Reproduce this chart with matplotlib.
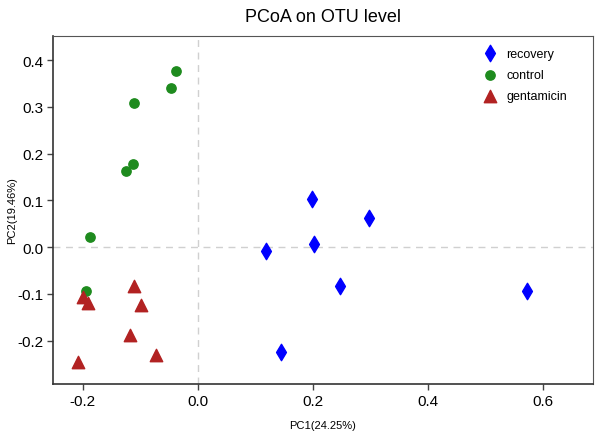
import numpy as np
import matplotlib
matplotlib.use('Agg')
import matplotlib.pyplot as plt

plt.rcParams['font.family'] = ['Liberation Sans', 'DejaVu Sans']

# PCoA coordinates
recovery_pc1 = [0.198, 0.202, 0.118, 0.297, 0.247, 0.144, 0.572]
recovery_pc2 = [0.103, 0.006, -0.009, 0.062, -0.084, -0.225, -0.094]

control_pc1 = [-0.037, -0.047, -0.110, -0.113, -0.125, -0.188, -0.195]
control_pc2 = [0.377, 0.340, 0.308, 0.178, 0.163, 0.021, -0.094]

gentamicin_pc1 = [-0.111, -0.200, -0.190, -0.099, -0.118, -0.073, -0.209]
gentamicin_pc2 = [-0.084, -0.107, -0.120, -0.124, -0.188, -0.231, -0.246]

x_ticks = [-0.2, 0.0, 0.2, 0.4, 0.6]
y_ticks = [-0.2, -0.1, 0.0, 0.1, 0.2, 0.3, 0.4]

fig = plt.figure(figsize=(6, 4.35), dpi=100)
ax = fig.add_axes([0.088, 0.115, 0.9, 0.8])

ax.axvline(0, color='#d0d0d0', linestyle=(0, (5, 4)), linewidth=1, zorder=1)
ax.axhline(0, color='#d0d0d0', linestyle=(0, (5, 4)), linewidth=1, zorder=1)

ax.scatter(recovery_pc1, recovery_pc2, marker='d', s=70, color='#0000ff', label='recovery', zorder=3)
ax.scatter(control_pc1, control_pc2, marker='o', s=45, color='#1e8b1e', label='control', zorder=3)
ax.scatter(gentamicin_pc1, gentamicin_pc2, marker='^', s=80, color='#b22222', label='gentamicin', zorder=3)

ax.set_xlim(-0.252, 0.687)
ax.set_ylim(-0.293, 0.452)
ax.set_xticks(x_ticks)
ax.set_xticklabels(['%.1f' % t for t in x_ticks])
ax.set_yticks(y_ticks)
ax.set_yticklabels(['%.1f' % t for t in y_ticks])
ax.tick_params(direction='out', length=4.5, width=1, labelsize=11, color='#444444', pad=2.5)

for side in ['top', 'right']:
    ax.spines[side].set_color('#555555')
    ax.spines[side].set_linewidth(0.8)
for side in ['left', 'bottom']:
    ax.spines[side].set_color('#333333')
    ax.spines[side].set_linewidth(1.2)

ax.set_xlabel('PC1(24.25%)', fontsize=8, labelpad=9)
ax.set_ylabel('PC2(19.46%)', fontsize=8)
ax.yaxis.set_label_coords(-0.066, 0.5)
ax.set_title('PCoA on OTU level', fontsize=13, pad=11)

ax.legend(loc='upper right', frameon=False, fontsize=9, handletextpad=0.3,
          labelspacing=0.75, borderaxespad=0.3, bbox_to_anchor=(0.969, 0.992))

fig.savefig('out.png', dpi=100)
